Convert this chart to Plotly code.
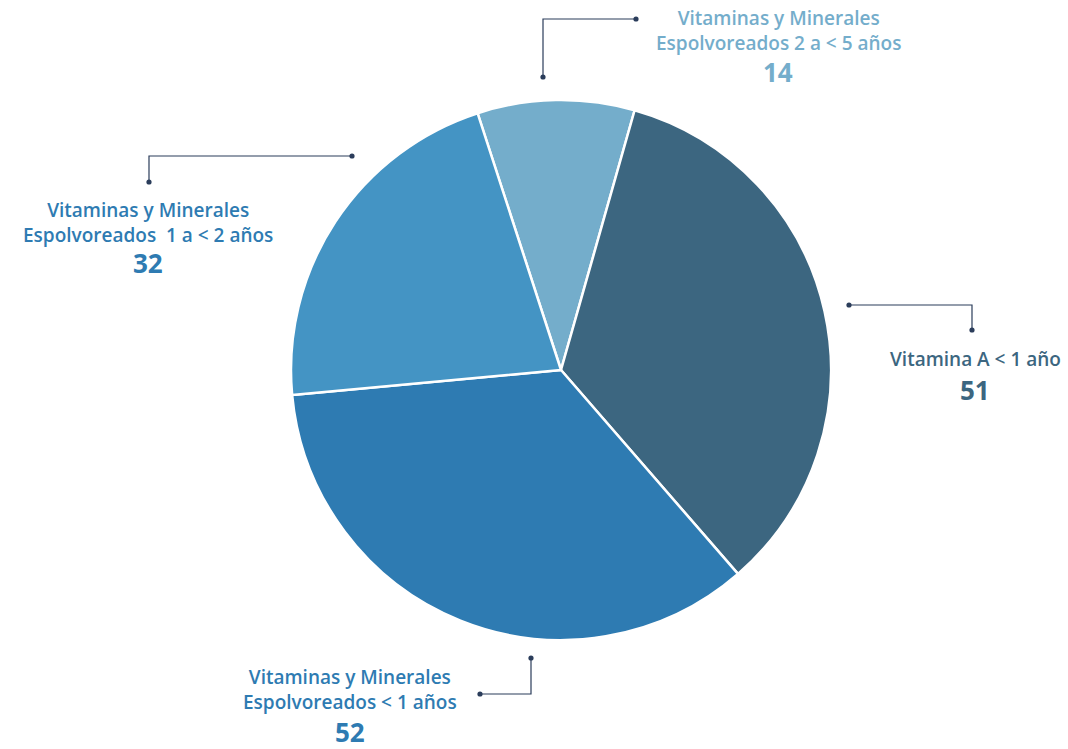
import plotly.graph_objects as go

# ---- data ----
categories = [
    "Vitaminas y Minerales Espolvoreados 2 a < 5 años",
    "Vitamina A < 1 año",
    "Vitaminas y Minerales Espolvoreados < 1 años",
    "Vitaminas y Minerales Espolvoreados  1 a < 2 años",
]
label_lines = [
    "Vitaminas y Minerales<br>Espolvoreados 2 a < 5 años",
    "Vitamina A < 1 año",
    "Vitaminas y Minerales<br>Espolvoreados < 1 años",
    "Vitaminas y Minerales<br>Espolvoreados  1 a < 2 años",
]
values = [14, 51, 52, 32]
colors = ["#74ADCB", "#3C6680", "#2E7BB2", "#4494C4"]
text_colors = ["#74ADCB", "#3C6680", "#2E7BB2", "#2E7BB2"]

W, H = 1068, 749
LINE = "#2B3D5B"
FONT = "Open Sans"

def px(x):
    return x / W

def py(y):
    return 1 - y / H

# pie placement (pixels)
cx, cy, r = 561, 370, 270

fig = go.Figure(go.Pie(
    labels=categories,
    values=values,
    sort=False,
    direction="clockwise",
    rotation=-18,
    marker=dict(colors=colors, line=dict(color="white", width=2.5)),
    textinfo="none",
    hoverinfo="label+value",
    showlegend=False,
    domain=dict(x=[px(cx - r), px(cx + r)], y=[py(cy + r), py(cy - r)]),
))

# label layout (pixels): text centre x, label centre y, number centre y, leader path
label_layout = [
    dict(tx=778, ly=30, ny=72, path=[(543, 77), (543, 19), (636, 19)]),
    dict(tx=975, ly=359, ny=390, path=[(849, 305), (972, 305), (972, 330)]),
    dict(tx=350, ly=689, ny=732, path=[(531, 658), (531, 694), (480, 694)]),
    dict(tx=148, ly=222, ny=263, path=[(352, 156), (149, 156), (149, 182)]),
]

annotations = []
shapes = []
for i, L in enumerate(label_layout):
    annotations.append(dict(
        x=px(L["tx"]), y=py(L["ly"]), xref="paper", yref="paper",
        text=label_lines[i], showarrow=False, xanchor="center", yanchor="middle",
        align="center", borderpad=0,
        font=dict(family=FONT, size=19, color=text_colors[i], weight=600),
    ))
    annotations.append(dict(
        x=px(L["tx"]), y=py(L["ny"]), xref="paper", yref="paper",
        text=str(values[i]), showarrow=False, xanchor="center", yanchor="middle",
        borderpad=0,
        font=dict(family=FONT, size=26, color=text_colors[i], weight=700),
    ))
    pts = L["path"]
    d = "M " + " L ".join(f"{px(x):.5f},{py(y):.5f}" for x, y in pts)
    shapes.append(dict(type="path", path=d, xref="paper", yref="paper",
                       line=dict(color=LINE, width=1.2)))
    for (x, y) in (pts[0], pts[-1]):
        rr = 2.6
        shapes.append(dict(type="circle", xref="paper", yref="paper",
                           x0=px(x - rr), x1=px(x + rr), y0=py(y + rr), y1=py(y - rr),
                           fillcolor=LINE, line=dict(width=0)))

fig.update_layout(
    width=W, height=H,
    margin=dict(l=0, r=0, t=0, b=0),
    paper_bgcolor="white",
    plot_bgcolor="white",
    annotations=annotations,
    shapes=shapes,
)

fig.write_html(
    "out.html",
    config={"displayModeBar": False},
    post_script="document.body.style.margin='0';document.body.style.overflow='hidden';",
)
